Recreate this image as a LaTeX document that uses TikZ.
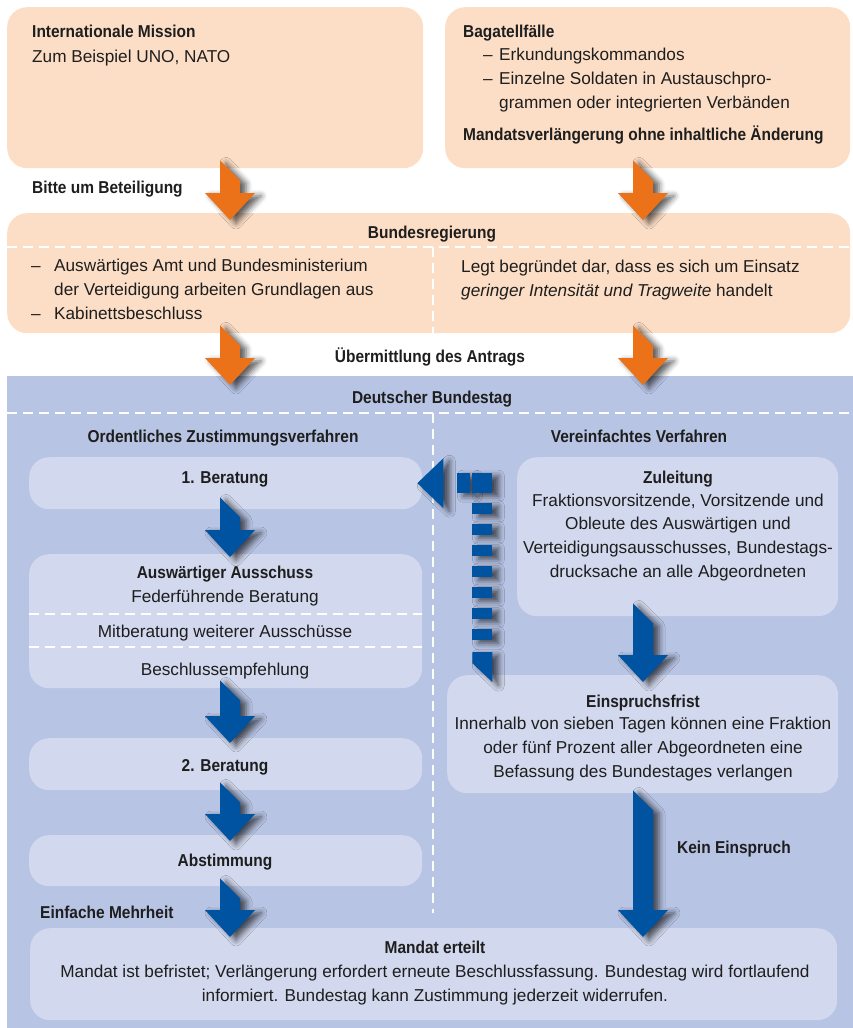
\documentclass[tikz,border=0pt]{standalone}
\usepackage{fontspec}
\setmainfont{Liberation Sans}
\newfontfamily\headfamily[FakeStretch=0.9]{Liberation Sans}
\usetikzlibrary{calc,shadows.blur}

\definecolor{peach}{RGB}{252,222,198}
\definecolor{bgblue}{RGB}{184,196,228}
\definecolor{paleblue}{RGB}{210,216,237}
\definecolor{arrorange}{RGB}{236,114,26}
\definecolor{arrblue}{RGB}{0,83,161}
\definecolor{ink}{RGB}{30,30,30}

\newcommand\bdfont{\fontsize{17.2pt}{23.6pt}\selectfont}
\newcommand\hdfont{\fontsize{17.2pt}{23.6pt}\selectfont\headfamily\bfseries}

\tikzset{
  peachbox/.style={fill=peach, rounded corners=20pt, inner sep=0pt, anchor=north west},
  palebox/.style={fill=paleblue, rounded corners=20pt, inner sep=0pt, anchor=north west},
  head/.style={font=\hdfont, text=ink, inner sep=0pt},
  body/.style={font=\bdfont, text=ink, inner sep=0pt},
  divider/.style={white, line width=2.5pt, dash pattern=on 10pt off 6pt},
  arrshadow/.style={blur shadow={shadow xshift=6pt, shadow yshift=-3pt,
      shadow blur radius=6pt, shadow opacity=65}},
}

% fat arrow with slanted tail: colour, top point, tip point
\newcommand\blockarrow[3]{%
  \path[fill=#1, arrshadow] let \p1=#2, \p2=#3 in
    (\x1-10pt,\y1) -- (\x1+10pt,\y1-20pt) -- (\x1+10pt,\y2+27pt)
    -- (\x1+25pt,\y2+27pt) -- (\x1,\y2) -- (\x1-25pt,\y2+27pt)
    -- (\x1-10pt,\y2+27pt) -- cycle;}

\begin{document}
\begin{tikzpicture}[x=1pt, y=-1pt]
    \useasboundingbox (0,0) rectangle (853,1028);
    \coordinate (colL) at (230,0);
    \coordinate (colR) at (643,0);

    % top boxes (multi-line texts sit on their last baseline)
    \node[peachbox, minimum width=416pt, minimum height=161pt] (intl) at (7,7) {};
    \node[peachbox, minimum width=405pt, minimum height=161pt] (baga) at (445,7) {};
    \node[head, anchor=base west] (intlhd) at (32,37) {Internationale Mission};
    \node[body, anchor=base west] (intltx) at (32,62) {Zum Beispiel UNO, NATO};
    \node[head, anchor=base west] (bagahd) at (463,37) {Bagatellfälle};
    \node[body, anchor=base west, align=left] (bagatx) at (483,108)
        {\makebox[16pt][l]{–}Erkundungskommandos\\
         \makebox[16pt][l]{–}Einzelne Soldaten in Austauschpro-\\
         \hspace*{16pt}grammen oder integrierten Verbänden};
    \node[head, anchor=base west] (verlhd) at (463,140) {Mandatsverlängerung ohne inhaltliche Änderung};
    \node[head, anchor=base west] (bitte) at (32,193) {Bitte um Beteiligung};

    % Bundesregierung
    \node[peachbox, minimum width=843pt, minimum height=120pt] (breg) at (7,213) {};
    \draw[divider] (7,247) -- (850,247);
    \draw[divider] (433,247) -- (433,333);
    \node[head, anchor=base] (breghd) at (432,238) {Bundesregierung};
    \node[body, anchor=base west, align=left] (bregl) at (31,319)
        {\makebox[23pt][l]{–}Auswärtiges Amt und Bundesministerium\\
         \hspace*{23pt}der Verteidigung arbeiten Grundlagen aus\\
         \makebox[23pt][l]{–}Kabinettsbeschluss};
    \node[body, anchor=base west, align=left] (bregr) at (461,296)
        {Legt begründet dar, dass es sich um Einsatz\\
         \textit{geringer Intensität und Tragweite} handelt};
    \node[head, anchor=base] (uebm) at (430,362) {Übermittlung des Antrags};

    % Bundestag
    \node[fill=bgblue, inner sep=0pt, anchor=north west, minimum width=846pt,
        minimum height=652pt] (btag) at (7,376) {};
    \draw[divider] (7,413) -- (853,413);
    \draw[divider] (433,413) -- (433,913);
    \node[head, anchor=base] (btaghd) at (432,403) {Deutscher Bundestag};
    \node[head, anchor=base] (ordhd) at (223,442) {Ordentliches Zustimmungsverfahren};
    \node[head, anchor=base] (verhd) at (639,442) {Vereinfachtes Verfahren};

    % ordentliches Verfahren
    \node[palebox, minimum width=393pt, minimum height=52pt] (ber1) at (29,457) {};
    \node[head, anchor=base] (ber1tx) at (225,483) {1. Beratung};
    \node[palebox, minimum width=393pt, minimum height=134pt] (ausw) at (29,554) {};
    \draw[divider] (29,614) -- (422,614);
    \draw[divider] (29,647) -- (422,647);
    \node[head, anchor=base] (auswhd) at (225,578) {Auswärtiger Ausschuss};
    \node[body, anchor=base] (auswa) at (225,602) {Federführende Beratung};
    \node[body, anchor=base] (auswb) at (225,637) {Mitberatung weiterer Ausschüsse};
    \node[body, anchor=base] (auswc) at (225,675) {Beschlussempfehlung};
    \node[palebox, minimum width=393pt, minimum height=52pt] (ber2) at (29,738) {};
    \node[head, anchor=base] (ber2tx) at (225,771) {2. Beratung};
    \node[palebox, minimum width=393pt, minimum height=51pt] (abst) at (29,835) {};
    \node[head, anchor=base] (abstx) at (225,866) {Abstimmung};
    \node[head, anchor=base west] (mehrh) at (40,918) {Einfache Mehrheit};

    % vereinfachtes Verfahren
    \node[palebox, minimum width=321pt, minimum height=159pt] (zul) at (517,457) {};
    \node[head, anchor=base] (zulhd) at (678,483) {Zuleitung};
    \node[body, anchor=base, align=center] (zultx) at (678,577)
        {Fraktionsvorsitzende, Vorsitzende und\\
         Obleute des Auswärtigen und\\
         Verteidigungsausschusses, Bundestags-\\
         drucksache an alle Abgeordneten};
    \node[palebox, minimum width=391pt, minimum height=118pt] (einspr) at (447,675) {};
    \node[head, anchor=base] (einsprhd) at (643,707) {Einspruchsfrist};
    \node[body, anchor=base, align=center] (einsprtx) at (643,777)
        {Innerhalb von sieben Tagen können eine Fraktion\\
         oder fünf Prozent aller Abgeordneten eine\\
         Befassung des Bundestages verlangen};
    \node[head, anchor=base west] (keinein) at (677,853) {Kein Einspruch};

    % Mandat
    \node[palebox, minimum width=807pt, minimum height=92pt] (mandat) at (30,928) {};
    \node[head, anchor=base] (mandhd) at (435,953) {Mandat erteilt};
    \node[body, anchor=base, align=center] (mandtx) at (435,1001)
        {Mandat ist befristet; Verlängerung erfordert erneute Beschlussfassung. Bundestag wird fortlaufend\\
         informiert. Bundestag kann Zustimmung jederzeit widerrufen.};

    % arrows
    \blockarrow{arrorange}{($(intl.south -| colL)+(0,-8)$)}{($(breg.north -| colL)+(0,7)$)}
    \blockarrow{arrorange}{($(baga.south -| colR)+(0,-8)$)}{($(breg.north -| colR)+(0,7)$)}
    \blockarrow{arrorange}{($(breg.south -| colL)+(0,-8)$)}{($(btag.north -| colL)+(0,9)$)}
    \blockarrow{arrorange}{($(breg.south -| colR)+(0,-8)$)}{($(btag.north -| colR)+(0,9)$)}
    \blockarrow{arrblue}{($(ber1.south -| colL)+(0,-12)$)}{($(ausw.north -| colL)+(0,3)$)}
    \blockarrow{arrblue}{($(ausw.south -| colL)+(0,-8)$)}{($(ber2.north -| colL)+(0,5)$)}
    \blockarrow{arrblue}{($(ber2.south -| colL)+(0,-8)$)}{($(abst.north -| colL)+(0,6)$)}
    \blockarrow{arrblue}{($(abst.south -| colL)+(0,-8)$)}{($(mandat.north -| colL)+(0,9)$)}
    \blockarrow{arrblue}{($(zul.south -| colR)+(0,-13)$)}{($(einspr.north -| colR)+(0,7)$)}
    \blockarrow{arrblue}{($(einspr.south -| colR)+(0,-3)$)}{($(mandat.north -| colR)+(0,9)$)}

    % dashed return arrow from Einspruchsfrist to 1. Beratung
    \coordinate (dtip) at ($(ber1.east)+(-5,0)$);
    \begin{scope}[shift={(dtip)}]
        \fill[arrblue, arrshadow] (0,0) -- (26,-25) -- (26,25) -- cycle;
        \fill[arrblue, arrshadow] (40,-10) rectangle (53,10);
        \fill[arrblue, arrshadow] (55,-10) rectangle (75,10);
        \foreach \k in {0,...,6}
            \fill[arrblue, arrshadow] (55,20+21*\k) rectangle (75,31+21*\k);
        \fill[arrblue, arrshadow] (55,169) -- (75,169) -- (75,199) -- (55,180) -- cycle;
    \end{scope}
\end{tikzpicture}
\end{document}
